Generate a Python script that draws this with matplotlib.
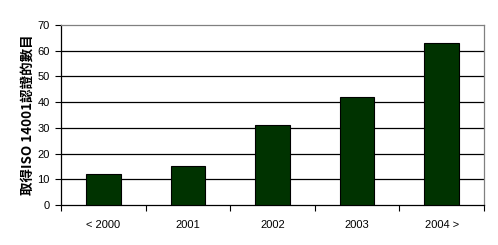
import matplotlib
matplotlib.use("Agg")
import matplotlib.pyplot as plt
import numpy as np

categories = ["< 2000", "2001", "2002", "2003", "2004 >"]
values = [12, 15, 31, 42, 63]
yticks = [0, 10, 20, 30, 40, 50, 60, 70]
ylabel = "取得ISO 14001認證的數目"

plt.rcParams['font.family'] = ['Liberation Sans', 'DejaVu Sans']

fig = plt.figure(figsize=(4.98, 2.45), dpi=100)
ax = fig.add_axes([61/498, 1-205/245, (484-61)/498, 180/245])

x = np.arange(len(categories))
ax.bar(x, values, width=0.41, color='#003300', edgecolor='black', linewidth=0.8, zorder=3)

ax.set_xlim(-0.5, len(categories) - 0.5)
ax.set_ylim(0, 70)
ax.set_yticks(yticks)
ax.set_yticklabels([str(v) for v in yticks], fontsize=8)
for v in yticks[1:-1]:
    ax.axhline(v, color='black', linewidth=0.9, zorder=1)

ax.set_xticks(np.arange(len(categories) + 1) - 0.5)
ax.set_xticklabels([])
ax.set_xticks(x, minor=True)
ax.set_xticklabels(categories, minor=True, fontsize=8)
ax.tick_params(axis='x', which='major', direction='out', length=4, width=0.8, color='black')
ax.tick_params(axis='x', which='minor', length=0, pad=11)
ax.tick_params(axis='y', direction='out', length=4, width=0.8, pad=4)

ax.spines['left'].set_color('black')
ax.spines['bottom'].set_color('black')
ax.spines['top'].set_color('#808080')
ax.spines['right'].set_color('#808080')
for s in ax.spines.values():
    s.set_linewidth(0.9)

ax.set_ylabel(ylabel, fontsize=9.7, fontweight='bold',
              family=['Noto Sans CJK TC', 'DejaVu Sans'], labelpad=2)

fig.savefig("out.png", dpi=100)
